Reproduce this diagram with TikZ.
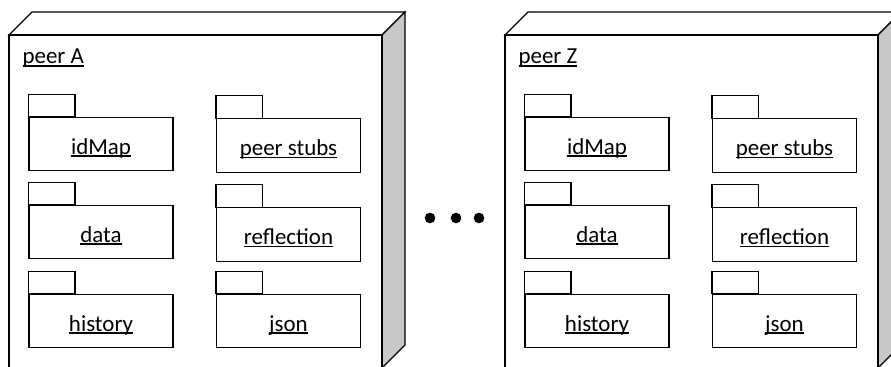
\documentclass[tikz,border=0pt]{standalone}
\usepackage{fontspec}
\setmainfont{Carlito}
\newcommand\ulx[1]{\setbox0\hbox{#1}\rlap{\vrule width\wd0 height -1.1pt depth 2.1pt}\box0}
\definecolor{sidegray}{RGB}{200,200,200}
\begin{document}
\begin{tikzpicture}[x=0.75pt,y=-0.75pt,
  line width=0.9pt,
  pkgbody/.style={draw, rectangle, inner sep=0pt, minimum width=108pt, minimum height=40pt,
    text height=15pt, text depth=0pt, font=\fontsize{17.2}{20}\selectfont},
  nodelabel/.style={anchor=base west, inner sep=0pt, font=\fontsize{17.2}{20}\selectfont},
  dot/.style={circle, fill=black, inner sep=0pt, minimum size=8pt}]
\useasboundingbox (0,0) rectangle (891,367);
\clip (0,0) rectangle (891,367);
\foreach \off/\name/\lab in {0/A/peer A, 496/Z/peer Z}{
  \begin{scope}[xshift=\off*0.75pt]
    % 3D node
    \fill[white] (9,35) rectangle (382,380);
    \filldraw[fill=white] (9,35) -- (32,12) -- (405,12) -- (382,35) -- cycle;
    \filldraw[fill=sidegray] (382,35) -- (405,12) -- (405,345) -- (382,368) -- cycle;
    \draw (9,380) -- (9,35) -- (382,35) -- (382,380);
    \node[nodelabel] (lab\name) at (22,64) {\ulx{\lab}};
    % packages
    \node[pkgbody] (idMap\name)   at (101,144)   {\ulx{idMap}};
    \node[pkgbody] (stubs\name)   at (288.5,145.5) {\ulx{peer stubs}};
    \node[pkgbody] (data\name)    at (101,232)   {\ulx{data}};
    \node[pkgbody] (refl\name)    at (288.5,234.5) {\ulx{reflection}};
    \node[pkgbody] (hist\name)    at (101,321)   {\ulx{history}};
    \node[pkgbody] (json\name)    at (288.5,321) {\ulx{json}};
    \foreach \p in {idMap,stubs,data,refl,hist,json}{
      \draw (\p\name.north west) rectangle ++(46.5,-22.5);
    }
  \end{scope}
}
\node[dot] (d1) at (430,218) {};
\node[dot] (d2) at (456,218) {};
\node[dot] (d3) at (479,218) {};
\end{tikzpicture}
\end{document}
